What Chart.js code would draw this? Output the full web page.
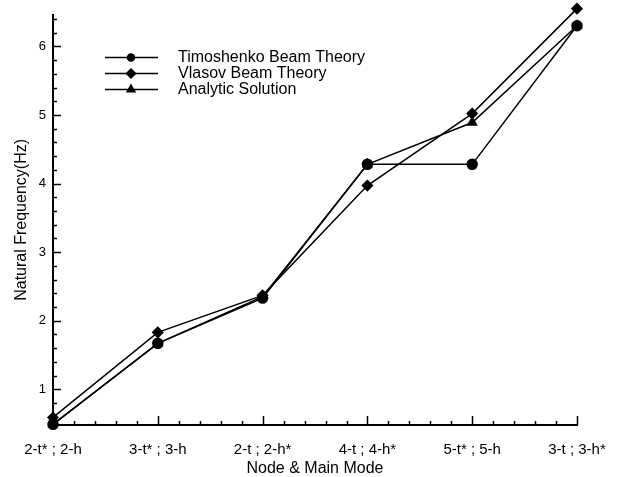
<!DOCTYPE html>
<html>
<head>
<meta charset="utf-8">
<script src="https://cdn.jsdelivr.net/npm/chart.js@4.4.1/dist/chart.umd.min.js"></script>
<style>
html, body { margin: 0; padding: 0; background: #fff; }
</style>
</head>
<body>
<canvas id="freq" width="623" height="477"></canvas>
<script>
const categories = ["2-t* ; 2-h", "3-t* ; 3-h", "2-t ; 2-h*", "4-t ; 4-h*", "5-t* ; 5-h", "3-t ; 3-h*"];
const timoshenko = [0.49, 1.67, 2.33, 4.28, 4.28, 6.30];
const vlasov = [0.59, 1.83, 2.37, 3.97, 5.02, 6.55];
const analytic = [0.49, 1.67, 2.35, 4.28, 4.89, 6.30];
const yTicks = [1, 2, 3, 4, 5, 6];
const yMin = 0.48, yMax = 6.46;

const FONT = "'Liberation Sans', Arial, Helvetica, sans-serif";

const series = [
  { label: "Timoshenko Beam Theory", data: timoshenko, style: "circle", r: 5, lr: 3.5 },
  { label: "Vlasov Beam Theory", data: vlasov, style: "rectRot", r: 5, lr: 4.5 },
  { label: "Analytic Solution", data: analytic, style: "triangle", r: 5, lr: 4.5 },
];

// inward tick marks + legend box
const frame = {
  id: "frame",
  afterDraw(chart) {
    const ctx = chart.ctx, xs = chart.scales.x, ys = chart.scales.y;
    const left = chart.chartArea.left, bottom = chart.chartArea.bottom;
    ctx.save();
    ctx.strokeStyle = "#000";
    ctx.lineWidth = 1.5;
    ctx.beginPath();
    // y: majors at tick values, 4 minors between
    for (let i = Math.ceil(yMin * 5); i <= Math.floor(yMax * 5); i++) {
      const py = Math.round(ys.getPixelForValue(i / 5)) + 0.5;
      const len = i % 5 === 0 ? 8 : 4;
      ctx.moveTo(left, py); ctx.lineTo(left + len, py);
    }
    // x: majors at categories, 4 minors between
    for (let c = 0; c < categories.length; c++) {
      const px = Math.round(xs.getPixelForValue(c)) + 0.5;
      if (c > 0) { ctx.moveTo(px, bottom); ctx.lineTo(px, bottom - 9); }
      if (c < categories.length - 1) {
        const nx = xs.getPixelForValue(c + 1);
        for (let k = 1; k < 5; k++) {
          const mx = Math.round(px + (nx - px) * k / 5) + 0.5;
          ctx.moveTo(mx, bottom); ctx.lineTo(mx, bottom - 4);
        }
      }
    }
    ctx.stroke();

    // legend
    ctx.font = "16px " + FONT;
    ctx.fillStyle = "#000";
    ctx.textBaseline = "middle";
    series.forEach((s, i) => {
      const y = 57.5 + i * 16;
      ctx.lineWidth = 1.5;
      ctx.beginPath();
      ctx.moveTo(105, y); ctx.lineTo(158, y);
      ctx.stroke();
      Chart.helpers.drawPoint(ctx, { pointStyle: s.style, radius: s.lr, borderWidth: 1 }, 131, y);
      ctx.fill();
      ctx.fillText(s.label, 178, y);
    });
    ctx.restore();
  }
};

new Chart(document.getElementById("freq"), {
  type: "line",
  data: {
    labels: categories,
    datasets: series.map(s => ({
      label: s.label,
      data: s.data,
      borderColor: "#000",
      backgroundColor: "#000",
      borderWidth: 1.5,
      pointStyle: s.style,
      pointRadius: s.r,
      pointBackgroundColor: "#000",
      pointBorderColor: "#000",
      tension: 0,
      fill: false,
      clip: false,
    })),
  },
  options: {
    responsive: false,
    animation: false,
    devicePixelRatio: 1,
    layout: { padding: { top: 14, right: 46, left: 0, bottom: 0 } },
    plugins: {
      legend: { display: false },
      tooltip: { enabled: false },
    },
    scales: {
      x: {
        type: "category",
        offset: false,
        grid: { display: false, drawTicks: false },
        border: { display: true, color: "#000", width: 2 },
        ticks: { color: "#000", font: { family: FONT, size: 15 }, padding: 16, maxRotation: 0, autoSkip: false },
        title: { display: true, text: "Node & Main Mode", color: "#000", font: { family: FONT, size: 16, lineHeight: 1 }, padding: { top: 0, bottom: 0 } },
        afterFit: s => { s.height = 52; },
      },
      y: {
        min: yMin,
        max: yMax,
        grid: { display: false, drawTicks: false },
        border: { display: true, color: "#000", width: 2 },
        ticks: { color: "#000", font: { family: FONT, size: 13 }, padding: 7 },
        afterBuildTicks: s => { s.ticks = yTicks.map(v => ({ value: v })); },
        title: { display: true, text: "Natural Frequency(Hz)", color: "#000", font: { family: FONT, size: 16 }, padding: { top: 12, bottom: 0 } },
        afterFit: s => { s.width = 53; },
      },
    },
  },
  plugins: [frame],
});
</script>
</body>
</html>
